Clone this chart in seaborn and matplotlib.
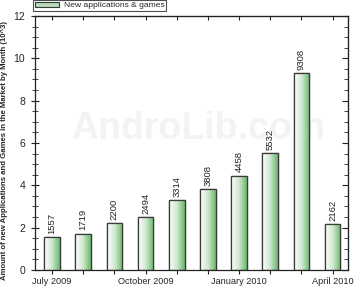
import numpy as np
import pandas as pd
import matplotlib
matplotlib.use("Agg")
import matplotlib.pyplot as plt
import seaborn as sns
from matplotlib.colors import LinearSegmentedColormap
from matplotlib.patches import Rectangle
from matplotlib.ticker import MultipleLocator

months = ["July 2009", "August 2009", "September 2009", "October 2009", "November 2009",
          "December 2009", "January 2010", "February 2010", "March 2010", "April 2010"]
values = [1557, 1719, 2200, 2494, 3314, 3808, 4458, 5532, 9308, 2162]
shown_labels = ["July 2009", "October 2009", "January 2010", "April 2010"]
legend_label = "New applications & games"
ylabel = "Amount of new Applications and Games in the Market by Month (10^3)"

sns.set_style("white")
plt.rcParams['font.family'] = ['Liberation Sans', 'DejaVu Sans']

df = pd.DataFrame({"month": months, "value": [v / 1000 for v in values]})

fig = plt.figure(figsize=(3.6, 2.88), dpi=100)
ax = fig.add_axes([0.097, 0.0625, 0.870, 0.882])
ax.patch.set_alpha(0)

sns.barplot(data=df, x="month", y="value", ax=ax, width=0.5,
            color="#a8d8a8", edgecolor="#3a3a3a", linewidth=0.9, saturation=1)

# gradient fill of each bar
cmap = LinearSegmentedColormap.from_list("g", ["#ffffff", "#cfe9cf", "#6cb66c"])
grad = np.linspace(0, 1, 64).reshape(1, -1)
for p in ax.patches:
    x0, y0 = p.get_x(), p.get_y()
    w, h = p.get_width(), p.get_height()
    im = ax.imshow(grad, cmap=cmap, aspect="auto", extent=[x0, x0 + w, y0, y0 + h],
                   zorder=p.get_zorder() + 0.1, interpolation="bilinear")
    im.set_clip_path(p)
    r = Rectangle((x0, y0), w, h, fill=False, edgecolor="#3a3a3a", linewidth=0.9,
                  zorder=p.get_zorder() + 0.2)
    ax.add_patch(r)

for i, v in enumerate(values):
    ax.text(i, v / 1000 + 0.15, str(v), rotation=90, ha="center", va="bottom",
            fontsize=6.8, color="#222222", zorder=5)

ax.set_xlim(-0.55, 9.5)
ax.set_ylim(0, 12)
ax.set_xticks(range(len(months)))
ax.set_xticklabels([m if m in shown_labels else "" for m in months], fontsize=6.6)
ax.yaxis.set_major_locator(MultipleLocator(2))
ax.yaxis.set_minor_locator(MultipleLocator(0.5))
ax.tick_params(axis="y", which="both", labelsize=7.5, direction="inout", left=True, right=False,
               color="#222222", pad=4)
ax.tick_params(axis="y", which="major", length=6)
ax.tick_params(axis="y", which="minor", length=4)
ax.tick_params(axis="x", which="major", direction="out", length=3, bottom=True, color="#222222",
               pad=2)
ax.set_xlabel("")
ax.set_ylabel(ylabel, fontsize=5.6, fontweight="bold")
ax.yaxis.set_label_coords(-0.086, 0.47)

# mirrored ticks on top and right
ax2 = ax.secondary_xaxis("top")
ax2.set_xticks(range(len(months)))
ax2.tick_params(direction="in", length=3, labeltop=False, color="#222222")
ax3 = ax.secondary_yaxis("right")
ax3.yaxis.set_major_locator(MultipleLocator(2))
ax3.yaxis.set_minor_locator(MultipleLocator(0.5))
ax3.tick_params(which="both", direction="in", labelright=False, color="#222222")
ax3.tick_params(which="major", length=4)
ax3.tick_params(which="minor", length=3)

for s in ax.spines.values():
    s.set_visible(True)
    s.set_color("#222222")
    s.set_linewidth(0.9)

# watermark (behind bars)
ax.text(0.52, 0.555, "AndroLib.com", transform=ax.transAxes, fontsize=27, fontweight="bold",
        color="#f3f3f3", ha="center", va="center", zorder=0.2)

handle = Rectangle((0, 0), 1, 1, facecolor="#b5dcb5", edgecolor="#3a3a3a", linewidth=0.8)
leg = fig.legend([handle], [legend_label], loc="upper left", bbox_to_anchor=(0.092, 1.0),
                 fontsize=6.1, frameon=True, fancybox=False, borderpad=0.2,
                 handlelength=2.8, handleheight=0.6, handletextpad=0.6, borderaxespad=0)
leg.get_frame().set_edgecolor("#222222")
leg.get_frame().set_linewidth(0.8)

fig.savefig("out.png", dpi=100)
